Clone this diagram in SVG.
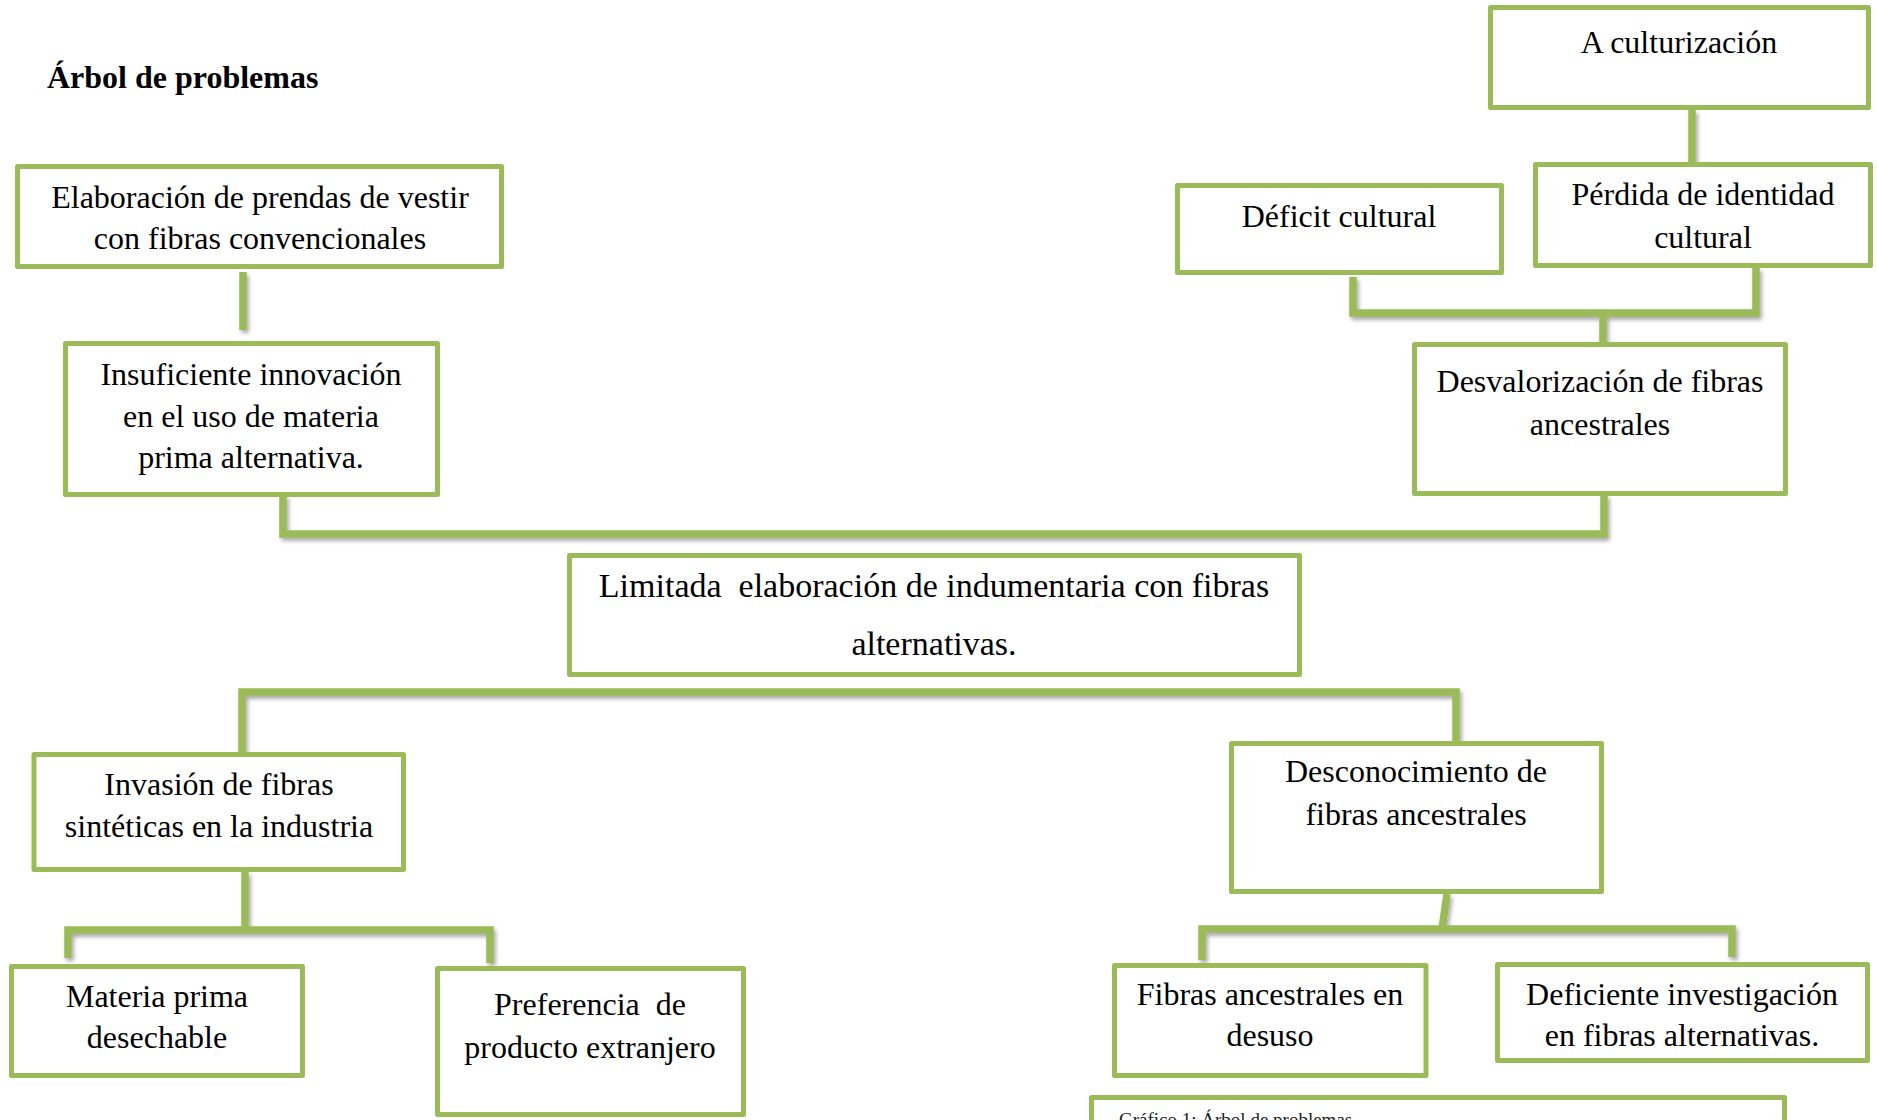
<svg xmlns="http://www.w3.org/2000/svg" width="1877" height="1120" viewBox="0 0 1877 1120">
  <defs>
    <filter id="shadow" x="-5%" y="-20%" width="110%" height="140%">
      <feDropShadow dx="2" dy="3" stdDeviation="2" flood-color="#000" flood-opacity="0.35"/>
    </filter>
  </defs>
  <style>
    .box { fill: #ffffff; stroke: #9BBB59; stroke-width: 5; stroke-linejoin: round; }
    .lbl { font-family: "Liberation Serif", "Times New Roman", serif; font-size: 32px; fill: #000; text-anchor: middle; white-space: pre; }
    .core { font-size: 34px; }
    .title { font-family: "Liberation Serif", "Times New Roman", serif; font-size: 32px; font-weight: bold; fill: #000; }
    .cap { font-family: "Liberation Serif", "Times New Roman", serif; font-size: 19px; fill: #222; }
    .link { fill: none; stroke: #9BBB59; stroke-width: 7.5; stroke-linejoin: miter; stroke-linecap: butt; }
  </style>

  <rect width="1877" height="1120" fill="#ffffff"/>

  <text class="title" x="47" y="88">Árbol de problemas</text>

  <!-- connectors -->
  <g id="connectors" filter="url(#shadow)">
    <path class="link" d="M1692,110 V163"/>
    <path class="link" d="M1353,277 V313 H1756 V268"/>
    <path class="link" d="M1603,313 V343"/>
    <path class="link" d="M243,272 V330"/>
    <path class="link" d="M283,495 V534 H1604 V495"/>
    <path class="link" d="M242,754 V692 H1456 V743"/>
    <path class="link" d="M245,872 V930"/>
    <path class="link" d="M68,958 V930 H490 V963"/>
    <path class="link" d="M1447,894 L1442,929"/>
    <path class="link" d="M1202,960 V929 H1732 V957"/>
  </g>

  <!-- effects (upper branch) -->
  <g id="n-aculturizacion">
    <rect class="box" x="1490.5" y="7.5" width="378" height="100"/>
    <text class="lbl" x="1679" y="53">A culturización</text>
  </g>
  <g id="n-perdida">
    <rect class="box" x="1535.5" y="164.5" width="335" height="101"/>
    <text class="lbl" x="1703" y="205">Pérdida de identidad</text>
    <text class="lbl" x="1703" y="248">cultural</text>
  </g>
  <g id="n-deficit">
    <rect class="box" x="1177.5" y="185.5" width="324" height="87"/>
    <text class="lbl" x="1339" y="227">Déficit cultural</text>
  </g>
  <g id="n-elaboracion">
    <rect class="box" x="17.5" y="166.5" width="484" height="100"/>
    <text class="lbl" x="260" y="208">Elaboración de prendas de vestir</text>
    <text class="lbl" x="260" y="249">con fibras convencionales</text>
  </g>
  <g id="n-insuficiente">
    <rect class="box" x="65.5" y="343.5" width="372" height="151"/>
    <text class="lbl" x="251" y="385">Insuficiente innovación</text>
    <text class="lbl" x="251" y="427">en el uso de materia</text>
    <text class="lbl" x="251" y="468">prima alternativa.</text>
  </g>
  <g id="n-desvalorizacion">
    <rect class="box" x="1414.5" y="344.5" width="371" height="149"/>
    <text class="lbl" x="1600" y="392">Desvalorización de fibras</text>
    <text class="lbl" x="1600" y="435">ancestrales</text>
  </g>

  <!-- central problem -->
  <g id="n-central">
    <rect class="box" x="569.5" y="555.5" width="730" height="119"/>
    <text class="lbl core" x="934" y="597">Limitada  elaboración de indumentaria con fibras</text>
    <text class="lbl core" x="934" y="655">alternativas.</text>
  </g>

  <!-- causes (lower branch) -->
  <g id="n-invasion">
    <rect class="box" x="34" y="754.5" width="369.5" height="115"/>
    <text class="lbl" x="219" y="795">Invasión de fibras</text>
    <text class="lbl" x="219" y="837">sintéticas en la industria</text>
  </g>
  <g id="n-materia">
    <rect class="box" x="11.5" y="966.5" width="291" height="109"/>
    <text class="lbl" x="157" y="1007">Materia prima</text>
    <text class="lbl" x="157" y="1048">desechable</text>
  </g>
  <g id="n-preferencia">
    <rect class="box" x="437.5" y="968.5" width="306" height="146"/>
    <text class="lbl" x="590" y="1015">Preferencia  de</text>
    <text class="lbl" x="590" y="1058">producto extranjero</text>
  </g>
  <g id="n-desconocimiento">
    <rect class="box" x="1231.5" y="743.5" width="370" height="148"/>
    <text class="lbl" x="1416" y="782">Desconocimiento de</text>
    <text class="lbl" x="1416" y="825">fibras ancestrales</text>
  </g>
  <g id="n-desuso">
    <rect class="box" x="1114.5" y="965.5" width="311.5" height="110"/>
    <text class="lbl" x="1270" y="1005">Fibras ancestrales en</text>
    <text class="lbl" x="1270" y="1046">desuso</text>
  </g>
  <g id="n-investigacion">
    <rect class="box" x="1497.5" y="964.5" width="370" height="96"/>
    <text class="lbl" x="1682" y="1005">Deficiente investigación</text>
    <text class="lbl" x="1682" y="1046">en fibras alternativas.</text>
  </g>

  <!-- caption frame at the page foot -->
  <g id="n-caption">
    <rect class="box" x="1091.5" y="1097.5" width="693" height="60"/>
    <text class="cap" x="1119" y="1126">Gráfico 1: Árbol de problemas</text>
  </g>
</svg>
